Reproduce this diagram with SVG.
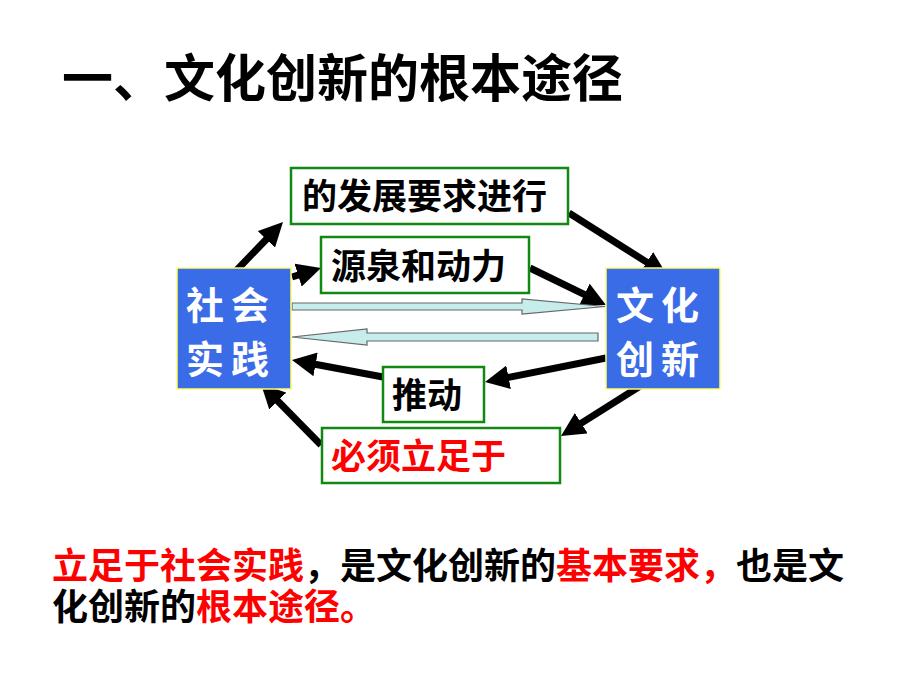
<svg xmlns="http://www.w3.org/2000/svg" width="920" height="690" viewBox="0 0 920 690">
<style>
text{font-family:"Noto Sans CJK SC","Noto Sans CJK TC",sans-serif;font-weight:700}
.title{font-size:51px;fill:#000}
.lbl{font-size:35px;fill:#000}
.body{font-size:36px;fill:#000}
.red{fill:#ff0000}
.wt{font-size:38px;fill:#fff;letter-spacing:7px;font-weight:700}
.gbox{fill:#fff;stroke:#118811;stroke-width:2.5}
.bbox{fill:#3b6ce8;stroke:#ffff66;stroke-width:1.5}
.arr{stroke:#000;stroke-width:7;fill:none;marker-end:url(#ah)}
.blk{fill:#c6ecec;stroke:#666;stroke-width:1.2}
</style>
<defs>
<marker id="ah" markerUnits="userSpaceOnUse" markerWidth="26" markerHeight="24" refX="6" refY="12" orient="auto" viewBox="0 0 26 24">
<path d="M0,0 L24,12 L0,24 z" fill="#000"/>
</marker>
</defs>
<rect width="920" height="690" fill="#fff"/>
<text class="title" x="62" y="97">一、文化创新的根本途径</text>

<g id="connectors">
<line class="arr" x1="232" y1="275" x2="270.5" y2="235"/>
<line class="arr" x1="292" y1="277" x2="303.8" y2="273.3"/>
<line class="arr" x1="530" y1="268" x2="589.8" y2="297.1"/>
<line class="arr" x1="569" y1="213" x2="651.8" y2="265.4"/>
<line class="arr" x1="606" y1="358" x2="502.7" y2="378.5"/>
<line class="arr" x1="383" y1="377" x2="309.7" y2="363.3"/>
<line class="arr" x1="645" y1="383" x2="576.2" y2="426.4"/>
<line class="arr" x1="321" y1="445" x2="273.6" y2="396.8"/>
<path class="blk" d="M292,303 L522,303 L522,299 L605,306.5 L522,314 L522,310 L292,310 z"/>
<path class="blk" d="M598,333 L367,333 L367,329 L292,337 L367,345 L367,341 L598,341 z"/>
</g>

<g id="shehui">
<rect class="bbox" x="177" y="268" width="114" height="121"/>
<text class="wt" x="186" y="319">社会</text>
<text class="wt" x="186" y="373">实践</text>
</g>
<g id="wenhua">
<rect class="bbox" x="606" y="268" width="114" height="121"/>
<text class="wt" x="616" y="319">文化</text>
<text class="wt" x="616" y="373">创新</text>
</g>
<g id="fazhan">
<rect class="gbox" x="291" y="168" width="277" height="56"/>
<text class="lbl" x="302" y="209">的发展要求进行</text>
</g>
<g id="yuanquan">
<rect class="gbox" x="321" y="237" width="208" height="56"/>
<text class="lbl" x="331" y="279">源泉和动力</text>
</g>
<g id="tuidong">
<rect class="gbox" x="383" y="367" width="101" height="55"/>
<text class="lbl" x="392" y="408">推动</text>
</g>
<g id="bixu">
<rect class="gbox" x="322" y="428" width="238" height="55"/>
<text class="lbl red" x="331" y="469">必须立足于</text>
</g>

<g id="summary">
<text class="body red" x="52" y="579">立足于社会实践</text>
<text class="body" x="304" y="579">，是文化创新的</text>
<text class="body red" x="556" y="579">基本要求，</text>
<text class="body" x="736" y="579">也是文</text>
<text class="body" x="52" y="620">化创新的</text>
<text class="body red" x="196" y="620">根本途径。</text>
</g>
</svg>
